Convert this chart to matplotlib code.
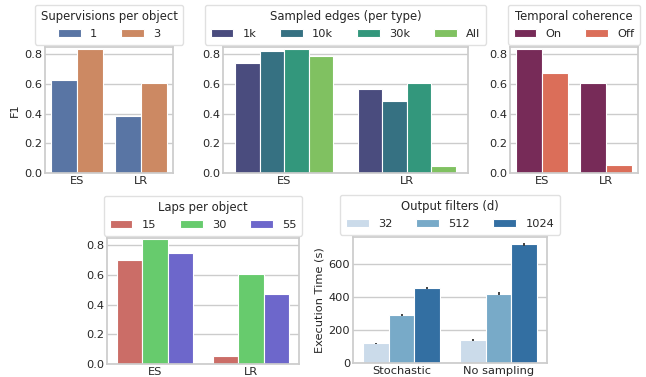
import numpy as np
import matplotlib
matplotlib.use("Agg")
import matplotlib.pyplot as plt
import seaborn as sns

# data
groups = ["ES", "LR"]

sup_labels = ["1", "3"]
sup_vals = [[0.628, 0.386],   # 1
            [0.836, 0.605]]   # 3

edge_labels = ["1k", "10k", "30k", "All"]
edge_vals = [[0.740, 0.567],
             [0.820, 0.487],
             [0.836, 0.605],
             [0.790, 0.049]]

tc_labels = ["On", "Off"]
tc_vals = [[0.836, 0.605],
           [0.673, 0.052]]

laps_labels = ["15", "30", "55"]
laps_vals = [[0.700, 0.056],
             [0.843, 0.608],
             [0.746, 0.472]]

time_groups = ["Stochastic", "No sampling"]
filt_labels = ["32", "512", "1024"]
filt_vals = [[119, 138],
             [290, 420],
             [456, 720]]
filt_err = [[4, 7],
            [6, 8],
            [7, 8]]

sns.set_theme(style="whitegrid")
plt.rcParams['font.family'] = ['DejaVu Sans']
plt.rcParams['font.size'] = 8.2
plt.rcParams['axes.edgecolor'] = '#cccccc'
plt.rcParams['xtick.labelsize'] = 8.2
plt.rcParams['ytick.labelsize'] = 8.2
plt.rcParams['axes.labelsize'] = 8.2

W, H = 646, 377
fig = plt.figure(figsize=(W / 100, H / 100), dpi=100)


def make_ax(left, right, top, bottom):
    return fig.add_axes([left / W, 1 - bottom / H, (right - left) / W, (bottom - top) / H])


def pal(name, n):
    return [sns.desaturate(c, 0.75) for c in sns.color_palette(name, n)]


def bars(ax, cats, labels, vals, colors, title, ylim=None, err=None):
    x = np.arange(len(cats))
    n = len(labels)
    w = 0.8 / n
    for i, (lab, v) in enumerate(zip(labels, vals)):
        pos = x - 0.4 + w * (i + 0.5)
        ax.bar(pos, v, width=w, color=colors[i], edgecolor='white', linewidth=0.8, label=lab)
        if err is not None:
            ax.errorbar(pos, v, yerr=err[i], fmt='none', ecolor='#424242', elinewidth=1.4, capsize=0)
    ax.set_xticks(x)
    ax.set_xticklabels(cats)
    ax.set_xlim(-0.5, len(cats) - 0.5)
    if ylim is not None:
        ax.set_ylim(*ylim)
    ax.xaxis.grid(False)
    ax.tick_params(axis='both', length=0, pad=2)
    leg = ax.legend(title=title, ncol=n, loc='lower center', bbox_to_anchor=(0.5, 1.0),
                    borderaxespad=0.2, fontsize=8.2, title_fontsize=8.4, borderpad=0.5,
                    columnspacing=2.1, handlelength=2.0, frameon=True)
    leg.get_frame().set_edgecolor('#d9d9d9')
    return ax


ax1 = make_ax(45, 173, 47, 173)
bars(ax1, groups, sup_labels, sup_vals, pal("deep", 2), "Supervisions per object", (0, 0.85))
ax1.set_ylabel("F1", labelpad=3)

ax2 = make_ax(223, 468, 47, 173)
bars(ax2, groups, edge_labels, edge_vals, pal("viridis", 4), "Sampled edges (per type)", (0, 0.85))

ax3 = make_ax(510, 638, 47, 173)
bars(ax3, groups, tc_labels, tc_vals, pal("rocket", 2), "Temporal coherence", (0, 0.85))

ax4 = make_ax(107, 299, 238, 364)
bars(ax4, groups, laps_labels, laps_vals, pal("hls", 3), "Laps per object", (0, 0.85))

ax5 = make_ax(353, 547, 237, 363)
bars(ax5, time_groups, filt_labels, filt_vals, pal("Blues", 3), "Output filters (d)", err=filt_err)
ax5.set_ylabel("Execution Time (s)", labelpad=3)

fig.savefig("out.png", dpi=100)
